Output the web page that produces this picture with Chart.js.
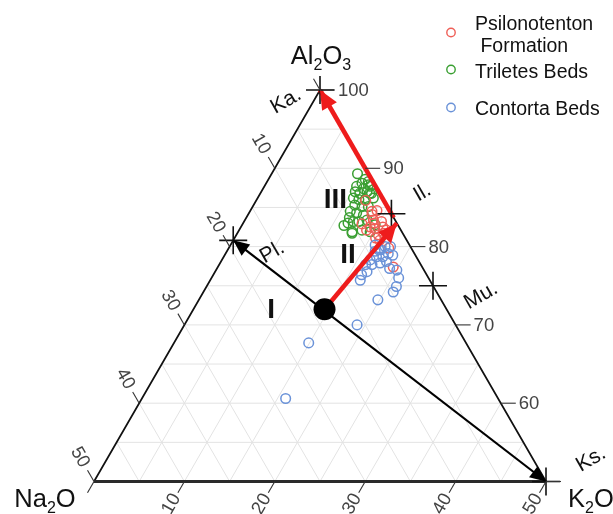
<!DOCTYPE html>
<html>
<head>
<meta charset="utf-8">
<script src="https://cdn.jsdelivr.net/npm/chart.js@4.4.0/dist/chart.umd.min.js"></script>
<style>
html,body{margin:0;padding:0;background:#fff;}
canvas{display:block;}
</style>
</head>
<body>
<canvas id="c" width="613" height="514"></canvas>
<script>
// ---- Data (wt%): Al2O3 = A, K2O = K, Na2O = 100 - A - K ----
const seriesNames = ['Psilonotenton\n Formation', 'Triletes Beds', 'Contorta Beds'];

const psiloA = [85.9, 84.5, 84.6, 83.4, 82.1, 82.3, 82.5, 81.5, 81.7, 81.1, 80.8, 79.8, 77.4, 83.2, 82.5, 82.9, 82.1, 84.1, 83.0];
const psiloK = [12.1, 13.5, 14.0, 14.2, 14.1, 14.9, 15.7, 15.7, 16.2, 15.6, 16.2, 17.7, 19.4, 15.2, 14.3, 13.2, 16.3, 13.7, 14.5];

const trilA = [89.3, 88.6, 88.1, 88.3, 87.7, 87.4, 87.7, 87.0, 86.8, 87.0, 86.8, 86.2, 86.0, 86.0, 86.2, 85.3, 85.1, 85.1, 84.5, 84.3, 84.0, 83.2, 83.0, 83.2, 83.4, 81.9, 82.1, 81.9, 82.8, 82.7, 83.7, 87.9, 86.8, 81.7];
const trilK = [9.5, 10.7, 10.6, 11.2, 10.2, 11.1, 11.7, 10.4, 11.0, 11.7, 12.3, 10.6, 11.3, 12.0, 12.8, 11.2, 12.1, 12.8, 11.1, 11.9, 12.8, 12.1, 11.6, 12.7, 13.5, 12.6, 13.6, 14.6, 14.7, 11.3, 11.4, 11.4, 12.1, 12.7];

const contA = [80.2, 79.6, 80.0, 80.0, 78.9, 78.7, 78.7, 78.3, 77.7, 77.7, 76.8, 76.4, 77.9, 78.1, 77.2, 77.0, 76.0, 74.9, 74.2, 73.2, 79.6, 79.1, 79.4, 70.0, 67.7, 60.6, 75.7];
const contK = [16.0, 16.9, 17.2, 17.8, 18.6, 17.6, 16.9, 16.4, 16.2, 16.9, 16.8, 16.4, 17.7, 18.3, 19.1, 20.0, 20.7, 21.0, 21.0, 19.8, 16.7, 18.0, 16.4, 19.1, 14.9, 15.9, 16.6];

// reference minerals
const mineralNames = ['Ka.', 'Pl.', 'Il.', 'Mu.', 'Ks.'];
const mineralA = [100, 80.8, 84.2, 75, 50];
const mineralK = [0, 0, 15.8, 25, 50];

// weathering trend points
const dotA = [72.0];
const dotK = [14.5];
const redArrowA = [[72.0, 83.0], [83.7, 100]];
const redArrowK = [[14.5, 17.0], [16.3, 0]];

// fields
const fieldNames = ['I', 'II', 'III'];
const fieldA = [72.0, 79.0, 86.0];
const fieldK = [8.6, 13.6, 8.7];

// axes
const tickA = [50, 60, 70, 80, 90, 100];
const tickCN = [0, 10, 20, 30, 40, 50];
const tickK = [0, 10, 20, 30, 40, 50];
const gridOffsets = [5, 10, 15, 20, 25, 30, 35, 40, 45];

// ---- ternary -> cartesian ----
const SQ3 = Math.sqrt(3);
function T(a, k) { return { x: k + a / 2, y: a * SQ3 / 2 }; }
function pts(aArr, kArr) { return aArr.map((a, i) => T(a, kArr[i])); }

const FONT = '"Liberation Sans", Arial, Helvetica, sans-serif';
const datasets = [];

// grid
gridOffsets.forEach(g => {
  const lines = [
    [T(50 + g, 0), T(50 + g, 50 - g)],
    [T(100 - g, g), T(50, g)],
    [T(100 - g, 0), T(50, 50 - g)]
  ];
  lines.forEach(l => datasets.push({
    type: 'scatter', data: l, showLine: true, borderColor: '#e3e3e3', borderWidth: 1,
    pointRadius: 0, order: 100, clip: false
  }));
});
// triangle edges
datasets.push({ type: 'scatter', data: [T(50, 0), T(100, 0), T(50, 50)], showLine: true,
  borderColor: '#111', borderWidth: 1.7, pointRadius: 0, order: 90, clip: false });
datasets.push({ type: 'scatter', data: [T(50, 0), T(50, 50)], showLine: true,
  borderColor: '#2a2a2a', borderWidth: 2.8, pointRadius: 0, order: 89, clip: false });
// Pl - Ks line
datasets.push({ type: 'scatter', data: [T(mineralA[1], mineralK[1]), T(mineralA[4], mineralK[4])], showLine: true,
  borderColor: '#000', borderWidth: 2.2, pointRadius: 0, order: 80, clip: false });
// samples
const cols = ['#EF5F57', '#3A9F32', '#6A92D8'];
[[psiloA, psiloK], [trilA, trilK], [contA, contK]].forEach((s, i) => {
  datasets.push({ type: 'scatter', label: seriesNames[i], data: pts(s[0], s[1]),
    pointStyle: 'circle', pointRadius: 4.8, pointBorderWidth: 1.5, borderColor: cols[i],
    backgroundColor: 'rgba(0,0,0,0)', order: 70 - i * 2 + (i === 1 ? 5 : 0), clip: false });
});
// red arrows
redArrowA.forEach((aa, i) => {
  datasets.push({ type: 'scatter', data: pts(aa, redArrowK[i]), showLine: true,
    borderColor: '#EE1C1C', borderWidth: 4.6, pointRadius: 0, order: 40, clip: false });
});
// mineral crosses
datasets.push({ type: 'scatter', data: pts(mineralA, mineralK), pointStyle: 'cross',
  pointRadius: 14, pointBorderWidth: 1.6, borderColor: '#111', order: 30, clip: false });
// big dot
datasets.push({ type: 'scatter', data: pts(dotA, dotK), pointStyle: 'circle',
  pointRadius: 11, backgroundColor: '#000', borderColor: '#000', pointBorderWidth: 0, order: 20, clip: false });

function head(ctx, p0, p1, len, half, color) {
  const ang = Math.atan2(p1.y - p0.y, p1.x - p0.x);
  ctx.save();
  ctx.translate(p1.x, p1.y);
  ctx.rotate(ang);
  ctx.beginPath();
  ctx.moveTo(0, 0);
  ctx.lineTo(-len, -half);
  ctx.lineTo(-len, half);
  ctx.closePath();
  ctx.fillStyle = color;
  ctx.fill();
  ctx.restore();
}

function chem(ctx, parts, x, y, align, size) {
  const sub = Math.round(size * 0.64);
  let w = 0;
  parts.forEach(p => { ctx.font = (p[1] ? sub : size) + 'px ' + FONT; w += ctx.measureText(p[0]).width; });
  let cx = align === 'center' ? x - w / 2 : x;
  ctx.textAlign = 'left';
  ctx.textBaseline = 'alphabetic';
  parts.forEach(p => {
    ctx.font = (p[1] ? sub : size) + 'px ' + FONT;
    ctx.fillText(p[0], cx, y + (p[1] ? size * 0.24 : 0));
    cx += ctx.measureText(p[0]).width;
  });
}

const ternaryPlugin = {
  id: 'ternary',
  afterDatasetsDraw(chart) {
    const ctx = chart.ctx, xs = chart.scales.x, ys = chart.scales.y;
    const P = (a, k) => { const t = T(a, k); return { x: xs.getPixelForValue(t.x), y: ys.getPixelForValue(t.y) }; };

    // arrowheads
    redArrowA.forEach((aa, i) => {
      const p0 = P(aa[0], redArrowK[i][0]), p1 = P(aa[1], redArrowK[i][1]);
      head(ctx, p0, p1, 19, 8.5, '#EE1C1C');
    });
    const pl = P(mineralA[1], mineralK[1]), ks = P(mineralA[4], mineralK[4]);
    head(ctx, ks, pl, 16, 7, '#000');
    head(ctx, pl, ks, 16, 7, '#000');

    // axis ticks and labels
    ctx.save();
    ctx.strokeStyle = '#333';
    ctx.lineWidth = 1.1;
    ctx.fillStyle = '#444';
    ctx.font = '18.5px ' + FONT;
    const c60 = 0.5, s60 = SQ3 / 2;
    // Al2O3 (right edge)
    tickA.forEach((a, i) => {
      const p = P(a, 100 - a);
      ctx.beginPath(); ctx.moveTo(p.x, p.y); ctx.lineTo(p.x + 15, p.y); ctx.stroke();
      if (i > 0) { ctx.textAlign = 'left'; ctx.textBaseline = 'middle'; ctx.fillText(String(a), p.x + 18, p.y + 1); }
    });
    // Na2O (left edge)
    tickCN.forEach((c, i) => {
      const p = P(100 - c, 0);
      ctx.beginPath(); ctx.moveTo(p.x, p.y); ctx.lineTo(p.x - 13 * c60, p.y - 13 * s60); ctx.stroke();
      if (i > 0) {
        ctx.save();
        ctx.translate(p.x - 28 * c60, p.y - 28 * s60);
        ctx.rotate(Math.PI / 3);
        ctx.textAlign = 'center'; ctx.textBaseline = 'middle';
        ctx.fillText(String(c), 0, 0);
        ctx.restore();
      }
    });
    // K2O (bottom edge)
    tickK.forEach((k, i) => {
      const p = P(50, k);
      ctx.beginPath(); ctx.moveTo(p.x, p.y); ctx.lineTo(p.x - 13 * c60, p.y + 13 * s60); ctx.stroke();
      if (i > 0) {
        ctx.save();
        ctx.translate(p.x - 26 * c60, p.y + 26 * s60);
        ctx.rotate(-Math.PI / 3);
        ctx.textAlign = 'center'; ctx.textBaseline = 'middle';
        ctx.fillText(String(k), 0, 0);
        ctx.restore();
      }
    });
    ctx.restore();

    // vertex labels
    ctx.save();
    ctx.fillStyle = '#111';
    const top = P(100, 0), left = P(50, 0), right = P(50, 50);
    chem(ctx, [['Al', 0], ['2', 1], ['O', 0], ['3', 1]], top.x + 1, top.y - 26, 'center', 25.5);
    chem(ctx, [['Na', 0], ['2', 1], ['O', 0]], left.x - 49, left.y + 25, 'center', 25.5);
    chem(ctx, [['K', 0], ['2', 1], ['O', 0]], right.x + 22, right.y + 25, 'left', 25.5);
    ctx.restore();

    // mineral labels
    const offs = [[-34, 11], [39, 12], [31, -21], [48, 10], [45, -22]];
    ctx.save();
    ctx.fillStyle = '#111';
    ctx.font = '21px ' + FONT;
    ctx.textAlign = 'center'; ctx.textBaseline = 'middle';
    mineralNames.forEach((n, i) => {
      const p = P(mineralA[i], mineralK[i]);
      ctx.save();
      ctx.translate(p.x + offs[i][0], p.y + offs[i][1]);
      ctx.rotate(-Math.PI / 6);
      ctx.fillText(n, 0, 0);
      ctx.restore();
    });
    // field labels
    ctx.font = 'bold 28px ' + FONT;
    fieldNames.forEach((n, i) => {
      const p = P(fieldA[i], fieldK[i]);
      ctx.fillText(n, p.x, p.y + 1);
    });
    ctx.restore();

    // legend
    ctx.save();
    const ly = [32.5, 69.5, 107.5];
    ctx.lineWidth = 1.4;
    ly.forEach((y, i) => {
      ctx.beginPath(); ctx.arc(451, y, 4.2, 0, Math.PI * 2); ctx.strokeStyle = cols[i]; ctx.stroke();
    });
    ctx.fillStyle = '#111';
    ctx.font = '19.5px ' + FONT;
    ctx.textAlign = 'left'; ctx.textBaseline = 'alphabetic';
    const l0 = seriesNames[0].split('\n');
    ctx.fillText(l0[0], 475, 30);
    ctx.fillText(l0[1], 475, 51.5);
    ctx.fillText(seriesNames[1], 475, 77.5);
    ctx.fillText(seriesNames[2], 475, 115);
    ctx.restore();
  }
};

new Chart(document.getElementById('c'), {
  type: 'scatter',
  data: { datasets: datasets },
  options: {
    responsive: false,
    devicePixelRatio: 1,
    animation: false,
    layout: { padding: { left: 94, right: 67, top: 90, bottom: 32.5 } },
    scales: {
      x: { type: 'linear', min: 25, max: 75, display: false },
      y: { type: 'linear', min: 25 * SQ3, max: 50 * SQ3, display: false }
    },
    plugins: { legend: { display: false }, tooltip: { enabled: false } }
  },
  plugins: [ternaryPlugin]
});
</script>
</body>
</html>
